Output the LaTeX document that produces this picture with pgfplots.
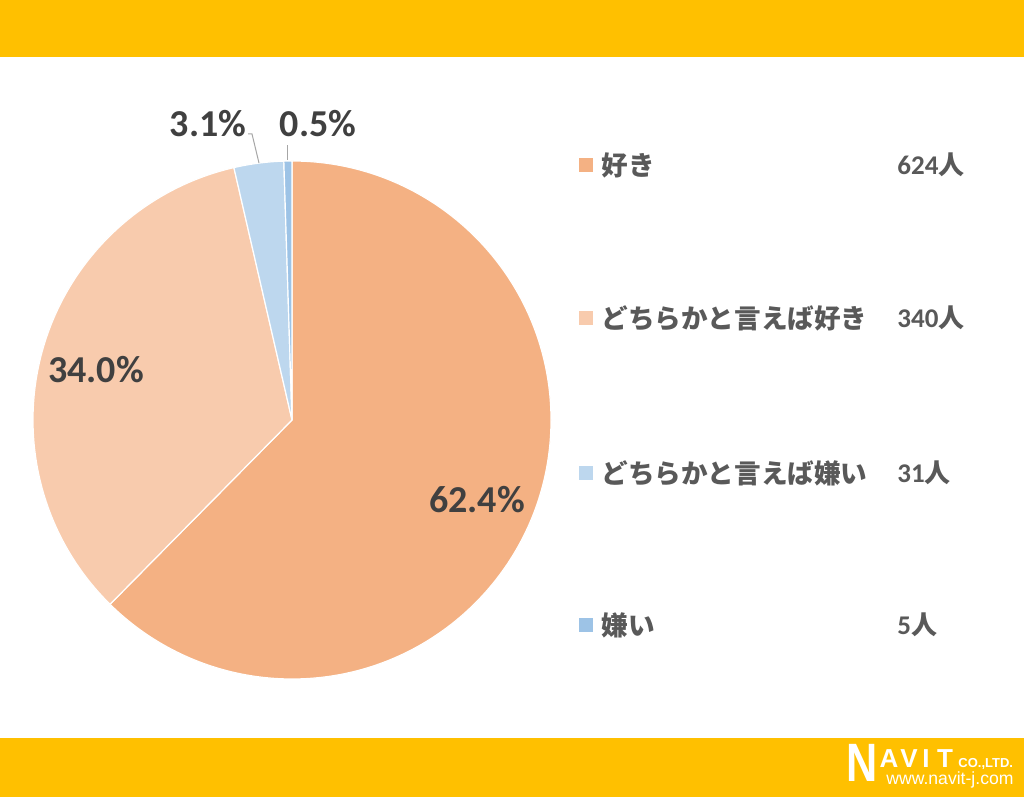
\documentclass[border=0pt]{standalone}
\usepackage{pgfplots}
\pgfplotsset{compat=1.18}
\usepackage{fontspec}
\setmainfont{Carlito}
\newfontfamily\cjk{Noto Sans CJK JP}
\newfontfamily\logofont{Liberation Sans}
\definecolor{cA}{HTML}{F4B183}
\definecolor{cB}{HTML}{F8CBAD}
\definecolor{cC}{HTML}{BDD7EE}
\definecolor{cD}{HTML}{9DC3E6}
\definecolor{bar}{HTML}{FFC000}
\definecolor{lbl}{HTML}{404040}
\definecolor{leg}{HTML}{595959}
\definecolor{lead}{HTML}{A6A6A6}
% data: counts
\def\vA{624}\def\vB{340}\def\vC{31}\def\vD{5}
\pgfmathsetmacro\tot{\vA+\vB+\vC+\vD}
\pgfmathsetmacro\aZ{90}
\pgfmathsetmacro\aA{\aZ-360*(\vA/\tot)}
\pgfmathsetmacro\aB{\aA-360*(\vB/\tot)}
\pgfmathsetmacro\aC{\aB-360*(\vC/\tot)}
\pgfmathsetmacro\aD{\aC-360*(\vD/\tot)}
\def\R{129.5pt}
\begin{document}
\begin{tikzpicture}
\begin{axis}[
  x=0.5pt, y=0.5pt,
  xmin=0, xmax=1024, ymin=0, ymax=797,
  enlargelimits=false, hide axis, clip=false,
]
\fill[white] (axis cs:0,0) rectangle (axis cs:1024,797);
\fill[bar] (axis cs:0,740) rectangle (axis cs:1024,797);
\fill[bar] (axis cs:0,0) rectangle (axis cs:1024,59);
% pie slices
\fill[cA, draw=white, line width=0.6pt] (axis cs:292,377) -- ([shift={(\aZ:\R)}]axis cs:292,377) arc[start angle=\aZ, end angle=\aA, radius=\R] -- cycle;
\fill[cB, draw=white, line width=0.6pt] (axis cs:292,377) -- ([shift={(\aA:\R)}]axis cs:292,377) arc[start angle=\aA, end angle=\aB, radius=\R] -- cycle;
\fill[cC, draw=white, line width=0.6pt] (axis cs:292,377) -- ([shift={(\aB:\R)}]axis cs:292,377) arc[start angle=\aB, end angle=\aC, radius=\R] -- cycle;
\fill[cD, draw=white, line width=0.6pt] (axis cs:292,377) -- ([shift={(\aC:\R)}]axis cs:292,377) arc[start angle=\aC, end angle=\aD, radius=\R] -- cycle;
% leader lines
\draw[lead, line width=0.5pt] (axis cs:259,634) -- (axis cs:252,663) -- (axis cs:248,663);
\draw[lead, line width=0.5pt] (axis cs:287,637) -- (axis cs:287,652);
% percentage labels
\node[lbl, font=\fontsize{19}{22}\selectfont\bfseries] at (axis cs:477,297) {62.4\%};
\node[lbl, font=\fontsize{19}{22}\selectfont\bfseries] at (axis cs:96,427) {34.0\%};
\node[lbl, font=\fontsize{19}{22}\selectfont\bfseries] at (axis cs:208,673) {3.1\%};
\node[lbl, font=\fontsize{19}{22}\selectfont\bfseries] at (axis cs:318,673) {0.5\%};
% legend markers
\addplot[only marks, mark=square*, mark size=3.25pt, mark options={draw=cA, fill=cA}] coordinates {(585.5,632)};
\addplot[only marks, mark=square*, mark size=3.25pt, mark options={draw=cB, fill=cB}] coordinates {(585.5,479)};
\addplot[only marks, mark=square*, mark size=3.25pt, mark options={draw=cC, fill=cC}] coordinates {(585.5,324)};
\addplot[only marks, mark=square*, mark size=3.25pt, mark options={draw=cD, fill=cD}] coordinates {(585.5,172)};
% legend texts
\node[leg, anchor=west, inner sep=0pt, font=\fontsize{13.3}{15}\selectfont\cjk\bfseries] at (axis cs:601,632) {好き};
\node[leg, anchor=west, inner sep=0pt, font=\fontsize{13.3}{15}\selectfont\cjk\bfseries] at (axis cs:601,479) {どちらかと言えば好き};
\node[leg, anchor=west, inner sep=0pt, font=\fontsize{13.3}{15}\selectfont\cjk\bfseries] at (axis cs:601,324) {どちらかと言えば嫌い};
\node[leg, anchor=west, inner sep=0pt, font=\fontsize{13.3}{15}\selectfont\cjk\bfseries] at (axis cs:601,172) {嫌い};
% counts
\node[leg, anchor=west, inner sep=0pt, font=\fontsize{13.5}{15}\selectfont\bfseries] at (axis cs:897,632) {624{\fontsize{13}{15}\selectfont\cjk 人}};
\node[leg, anchor=west, inner sep=0pt, font=\fontsize{13.5}{15}\selectfont\bfseries] at (axis cs:897,479) {340{\fontsize{13}{15}\selectfont\cjk 人}};
\node[leg, anchor=west, inner sep=0pt, font=\fontsize{13.5}{15}\selectfont\bfseries] at (axis cs:897,324) {31{\fontsize{13}{15}\selectfont\cjk 人}};
\node[leg, anchor=west, inner sep=0pt, font=\fontsize{13.5}{15}\selectfont\bfseries] at (axis cs:897,172) {5{\fontsize{13}{15}\selectfont\cjk 人}};
% logo
\node[white, anchor=base west, inner sep=0pt, font=\fontsize{27}{27}\selectfont\logofont\bfseries, xscale=0.8] at (axis cs:846,15) {N};
\node[white, anchor=base, inner sep=0pt, font=\fontsize{13}{13}\selectfont\logofont\bfseries] at (axis cs:889,29) {A};
\node[white, anchor=base, inner sep=0pt, font=\fontsize{13}{13}\selectfont\logofont\bfseries] at (axis cs:909,29) {V};
\node[white, anchor=base, inner sep=0pt, font=\fontsize{13}{13}\selectfont\logofont\bfseries] at (axis cs:926,29) {I};
\node[white, anchor=base, inner sep=0pt, font=\fontsize{13}{13}\selectfont\logofont\bfseries] at (axis cs:945,29) {T};
\node[white, anchor=base west, inner sep=0pt, font=\fontsize{6.5}{7}\selectfont\logofont\bfseries] at (axis cs:958,29) {CO.,LTD.};
\node[white, anchor=base west, inner sep=0pt, font=\fontsize{8.8}{9}\selectfont\logofont] at (axis cs:886,12) {www.navit-j.com};
\end{axis}
\end{tikzpicture}
\end{document}
